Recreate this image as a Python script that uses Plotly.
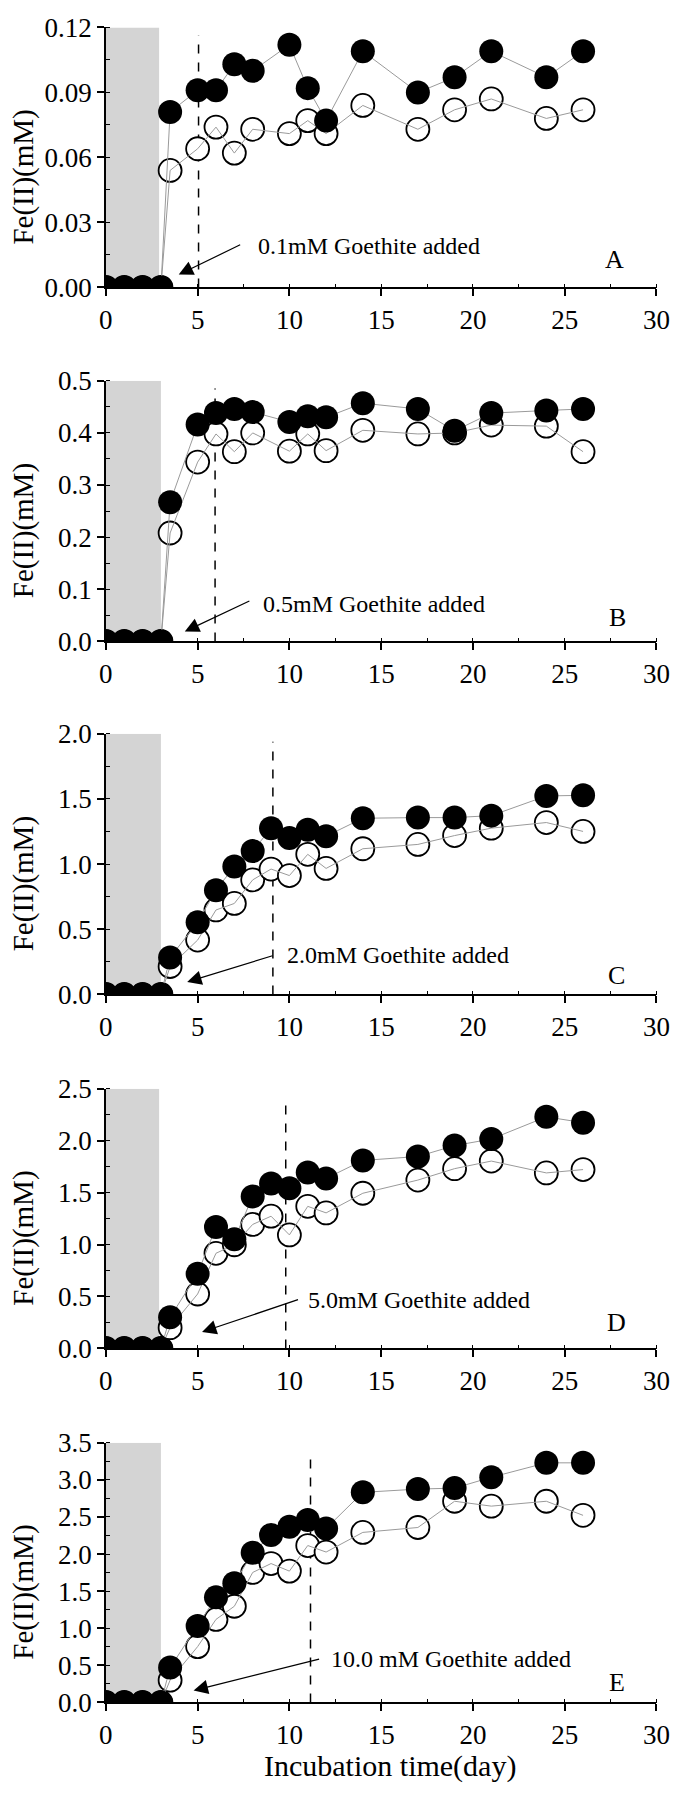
import plotly.graph_objects as go

# ---------------- data ----------------
days_ab = [0, 1, 2, 3, 3.5, 5, 6, 7, 8, 10, 11, 12, 14, 17, 19, 21, 24, 26]
days_cde = [0, 1, 2, 3, 3.5, 5, 6, 7, 8, 9, 10, 11, 12, 14, 17, 19, 21, 24, 26]

a_filled = [0, 0, 0, 0, 0.081, 0.091, 0.091, 0.103, 0.100, 0.112, 0.092, 0.077, 0.109, 0.090, 0.097, 0.109, 0.097, 0.109]
a_open = [0, 0, 0, 0, 0.054, 0.064, 0.074, 0.062, 0.073, 0.071, 0.077, 0.071, 0.084, 0.073, 0.082, 0.087, 0.078, 0.082]
b_filled = [0, 0, 0, 0, 0.267, 0.416, 0.438, 0.446, 0.440, 0.421, 0.432, 0.430, 0.457, 0.446, 0.404, 0.438, 0.443, 0.446]
b_open = [0, 0, 0, 0, 0.208, 0.344, 0.398, 0.364, 0.400, 0.365, 0.398, 0.366, 0.405, 0.398, 0.400, 0.415, 0.413, 0.364]
c_filled = [0, 0, 0, 0, 0.284, 0.553, 0.80, 0.982, 1.10, 1.276, 1.20, 1.264, 1.214, 1.352, 1.357, 1.357, 1.372, 1.523, 1.528]
c_open = [0, 0, 0, 0, 0.214, 0.417, 0.648, 0.698, 0.879, 0.962, 0.912, 1.075, 0.967, 1.118, 1.151, 1.219, 1.276, 1.319, 1.251]
d_filled = [0, 0, 0, 0, 0.30, 0.72, 1.169, 1.052, 1.463, 1.589, 1.542, 1.693, 1.637, 1.81, 1.848, 1.953, 2.016, 2.23, 2.174]
d_open = [0, 0, 0, 0, 0.20, 0.524, 0.916, 0.998, 1.194, 1.273, 1.093, 1.368, 1.305, 1.494, 1.621, 1.731, 1.804, 1.690, 1.722]
e_filled = [0, 0, 0, 0, 0.469, 1.031, 1.416, 1.606, 2.018, 2.257, 2.367, 2.46, 2.345, 2.832, 2.876, 2.889, 3.035, 3.23, 3.23]
e_open = [0, 0, 0, 0, 0.30, 0.752, 1.119, 1.296, 1.752, 1.872, 1.77, 2.115, 2.027, 2.292, 2.358, 2.712, 2.646, 2.712, 2.522]

panel_letters = ["A", "B", "C", "D", "E"]
y_max = [0.12, 0.5, 2.0, 2.5, 3.5]
y_dtick = [0.03, 0.1, 0.5, 0.5, 0.5]
y_format = [".2f", ".1f", ".1f", ".1f", ".1f"]
shade_end = [2.9, 3.0, 3.0, 2.9, 3.0]
goethite_day = [5.05, 5.95, 9.1, 9.8, 11.15]
goethite_text = ["0.1mM Goethite added", "0.5mM Goethite added", "2.0mM Goethite added",
                 "5.0mM Goethite added", "10.0 mM Goethite added"]
text_pos = [(8.2, 0.0192), (8.47, 0.0725), (9.74, 0.30), (10.9, 0.468), (12.16, 0.589)]
arrow_tail = [(7.4, 0.020), (7.9, 0.079), (9.16, 0.30), (10.55, 0.474), (11.7, 0.589)]
arrow_head = [(3.97, 0.0059), (4.3, 0.019), (4.43, 0.095), (5.24, 0.158), (4.78, 0.159)]
letter_pos = [(27.7, 0.0127), (27.85, 0.045), (27.8, 0.146), (27.8, 0.246), (27.85, 0.265)]

series = [
    (days_ab, a_filled, a_open),
    (days_ab, b_filled, b_open),
    (days_cde, c_filled, c_open),
    (days_cde, d_filled, d_open),
    (days_cde, e_filled, e_open),
]

# ---------------- layout geometry ----------------
W, H = 685, 1800
x_dom = [102 / W, 670 / W]
panel_px = [(12.7, 277), (372, 637), (731, 996), (1092, 1356), (1452, 1716)]

FONT = "Liberation Serif"
fig = go.Figure()
layout = dict(
    width=W, height=H,
    margin=dict(l=0, r=0, t=0, b=0),
    paper_bgcolor="white", plot_bgcolor="white",
    showlegend=False,
    font=dict(family=FONT, color="black", size=26),
)
shapes = []
annotations = []

for i in range(5):
    n = "" if i == 0 else str(i + 1)
    xa, ya = "x" + n, "y" + n
    top, bot = panel_px[i]
    xs, yf, yo = series[i]

    fig.add_trace(go.Scatter(x=xs, y=yo, mode="markers", xaxis=xa, yaxis=ya,
                             marker=dict(size=23, color="white",
                                         line=dict(color="black", width=1.8))))
    fig.add_trace(go.Scatter(x=xs, y=yo, mode="lines", xaxis=xa, yaxis=ya,
                             line=dict(color="#9a9a9a", width=1)))
    fig.add_trace(go.Scatter(x=xs, y=yf, mode="lines", xaxis=xa, yaxis=ya,
                             line=dict(color="#9a9a9a", width=1)))
    fig.add_trace(go.Scatter(x=xs, y=yf, mode="markers", xaxis=xa, yaxis=ya,
                             marker=dict(size=24, color="black", line=dict(width=0))))

    layout["xaxis" + n] = dict(
        domain=x_dom, anchor=ya, range=[0, 30], dtick=5, tick0=0,
        showline=True, linecolor="black", linewidth=1.5, mirror=False,
        ticks="outside", ticklen=7, tickwidth=1.5, tickcolor="black",
        minor=dict(dtick=2.5, ticks="inside", ticklen=4, tickwidth=1, tickcolor="black"),
        showgrid=False, zeroline=False,
        tickfont=dict(family=FONT, size=27, color="black"),
    )
    layout["yaxis" + n] = dict(
        domain=[1 - bot / H, 1 - top / H], anchor=xa, range=[0, y_max[i]],
        dtick=y_dtick[i], tick0=0, tickformat=y_format[i],
        showline=True, linecolor="black", linewidth=1.5, mirror=False,
        ticks="outside", ticklen=7, tickwidth=1.5, tickcolor="black",
        minor=dict(dtick=y_dtick[i] / 2, ticks="inside", ticklen=4, tickwidth=1, tickcolor="black"),
        showgrid=False, zeroline=False,
        tickfont=dict(family=FONT, size=27, color="black"),
    )

    shapes.append(dict(type="rect", xref=xa, yref=ya, x0=0, x1=shade_end[i], y0=0, y1=y_max[i],
                       fillcolor="#d4d4d4", line=dict(width=0), layer="below"))
    shapes.append(dict(type="line", xref=xa, yref=ya, x0=goethite_day[i], x1=goethite_day[i],
                       y0=0, y1=y_max[i] * 0.97, line=dict(color="black", width=1.5, dash="dash"),
                       layer="below"))

    annotations.append(dict(xref=xa, yref=ya, axref=xa, ayref=ya,
                            x=arrow_head[i][0], y=arrow_head[i][1],
                            ax=arrow_tail[i][0], ay=arrow_tail[i][1],
                            text="", showarrow=True, arrowhead=2, arrowsize=2.4,
                            arrowwidth=1.2, arrowcolor="black", standoff=0, startstandoff=0))
    annotations.append(dict(xref=xa, yref=ya, x=text_pos[i][0], y=text_pos[i][1],
                            text=goethite_text[i], showarrow=False, xanchor="left", yanchor="middle",
                            font=dict(family=FONT, size=24, color="black")))
    annotations.append(dict(xref=xa, yref=ya, x=letter_pos[i][0], y=letter_pos[i][1],
                            text=panel_letters[i], showarrow=False, xanchor="center", yanchor="middle",
                            font=dict(family=FONT, size=26, color="black")))
    annotations.append(dict(xref="paper", yref="paper", x=17 / W, y=1 - ((top + bot) / 2 + 20) / H,
                            text="Fe(II)(mM)", showarrow=False, textangle=-90,
                            xanchor="center", yanchor="middle",
                            font=dict(family=FONT, size=29, color="black")))

annotations.append(dict(xref="paper", yref="paper", x=395 / W, y=1 - 1781 / H,
                        text="Incubation time(day)", showarrow=False,
                        xanchor="center", yanchor="middle",
                        font=dict(family=FONT, size=30, color="black")))

layout["shapes"] = shapes
layout["annotations"] = annotations
fig.update_layout(**layout)
fig.write_html("out.html", config={"displayModeBar": False},
               post_script="document.body.style.margin='0px';")
